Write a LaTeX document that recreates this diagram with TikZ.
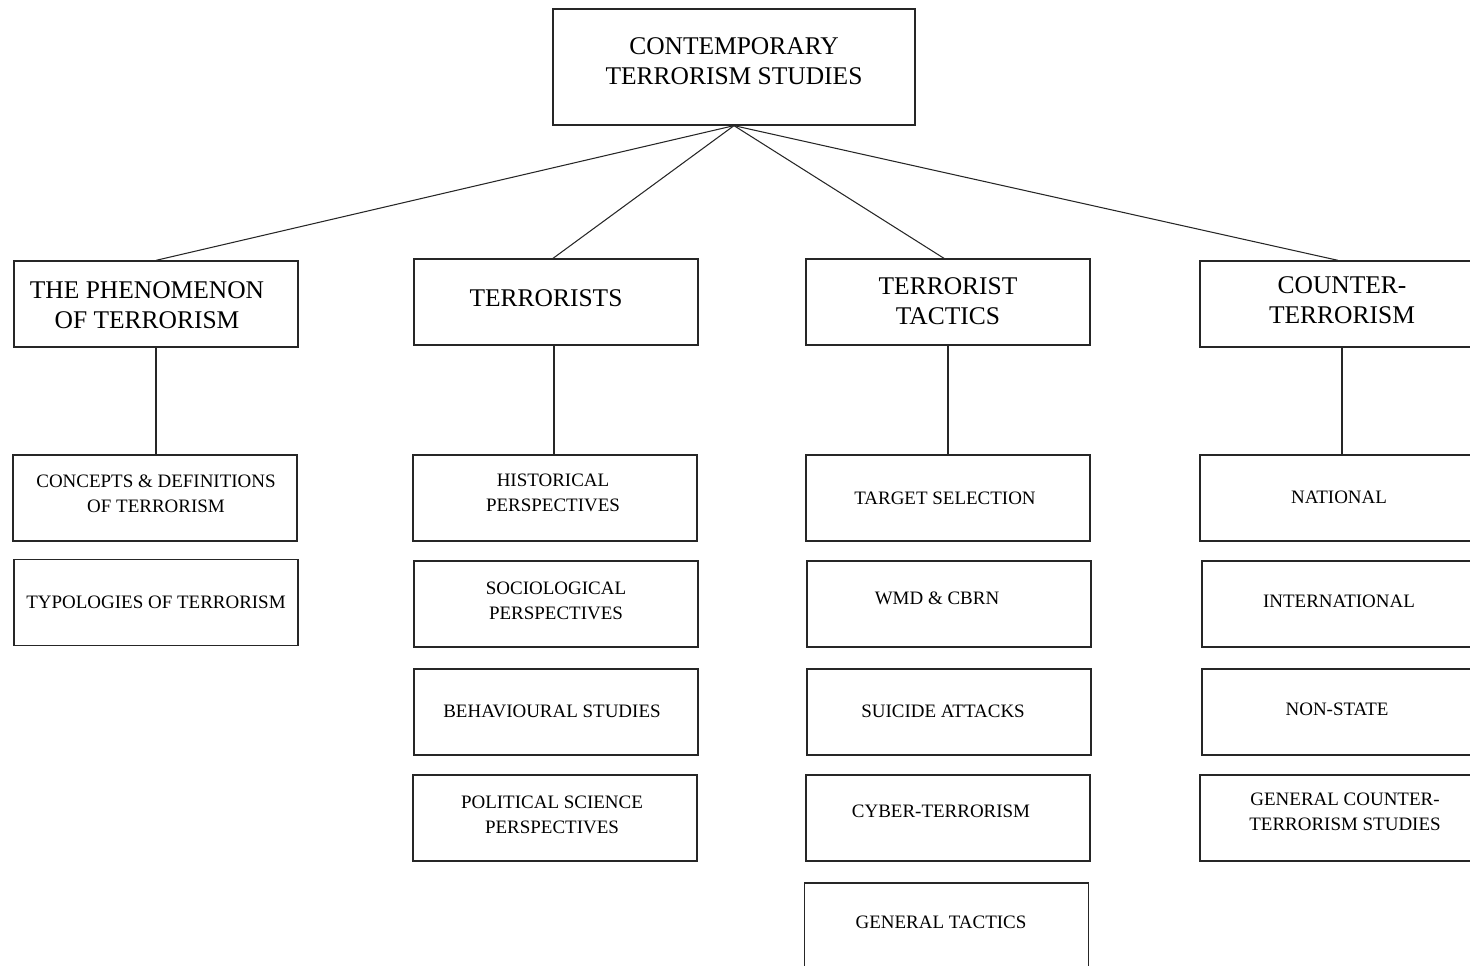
\documentclass[tikz,border=0pt]{standalone}
\usepackage{fontspec}
\setmainfont{Liberation Serif}
\begin{document}
\begin{tikzpicture}[x=0.02cm,y=-0.02cm,
  box/.style={draw=black!85, line width=0.75pt, rectangle, inner sep=0pt,
              minimum width=5.68cm, minimum height=1.72cm},
  topbox/.style={box, minimum width=7.24cm, minimum height=2.32cm},
  headtext/.style={align=center, inner sep=0pt, font=\fontsize{14.5}{17}\selectfont},
  subtext/.style={align=center, inner sep=0pt, font=\fontsize{10.8}{14.5}\selectfont},
  link/.style={draw=black!85, line width=0.6pt}]
\useasboundingbox (0,0) rectangle (1470,966);
\clip (0,0) rectangle (1470,966);

% top
\node[topbox] (b0) at (734,67) {};
\node[headtext] (t0) at (734,61) {CONTEMPORARY\\TERRORISM STUDIES};

% level 2
\node[box] (b1) at (156,304) {};
\node[headtext] (t1) at (147,305) {THE PHENOMENON\\OF TERRORISM};
\node[box] (b2) at (556,302) {};
\node[headtext] (t2) at (546,298) {TERRORISTS};
\node[box] (b3) at (948,302) {};
\node[headtext] (t3) at (948,301) {TERRORIST\\TACTICS};
\node[box] (b4) at (1342,304) {};
\node[headtext] (t4) at (1342,300) {COUNTER-\\TERRORISM};

% column 1
\node[box] (c1) at (155,498) {};
\node[subtext] (tc1) at (156,494) {CONCEPTS \& DEFINITIONS\\OF TERRORISM};
\node[box] (c2) at (156,602.5) {};
\node[subtext] (tc2) at (156,602) {TYPOLOGIES OF TERRORISM};

% column 2
\node[box] (d1) at (555,498) {};
\node[subtext] (td1) at (553,493) {HISTORICAL\\PERSPECTIVES};
\node[box] (d2) at (556,604) {};
\node[subtext] (td2) at (556,601) {SOCIOLOGICAL\\PERSPECTIVES};
\node[box] (d3) at (556,712) {};
\node[subtext] (td3) at (552,711) {BEHAVIOURAL STUDIES};
\node[box] (d4) at (555,818) {};
\node[subtext] (td4) at (552,815) {POLITICAL SCIENCE\\PERSPECTIVES};

% column 3
\node[box] (e1) at (948,498) {};
\node[subtext] (te1) at (945,498) {TARGET SELECTION};
\node[box] (e2) at (949,604) {};
\node[subtext] (te2) at (937,598) {WMD \& CBRN};
\node[box] (e3) at (949,712) {};
\node[subtext] (te3) at (943,711) {SUICIDE ATTACKS};
\node[box] (e4) at (948,818) {};
\node[subtext] (te4) at (941,811) {CYBER-TERRORISM};
\node[box] (e5) at (946.5,926) {};
\node[subtext] (te5) at (941,922) {GENERAL TACTICS};

% column 4
\node[box] (f1) at (1342,498) {};
\node[subtext] (tf1) at (1339,497) {NATIONAL};
\node[box] (f2) at (1344,604) {};
\node[subtext] (tf2) at (1339,601) {INTERNATIONAL};
\node[box] (f3) at (1344,712) {};
\node[subtext] (tf3) at (1337,709) {NON-STATE};
\node[box] (f4) at (1342,818) {};
\node[subtext] (tf4) at (1345,812) {GENERAL COUNTER-\\TERRORISM STUDIES};

% connectors
\draw[link] (b0.south) -- (b1.north);
\draw[link] (b0.south) -- ([xshift=-0.06cm]b2.north);
\draw[link] (b0.south) -- ([xshift=-0.08cm]b3.north);
\draw[link] (b0.south) -- ([xshift=-0.08cm]b4.north);
\draw[link] (b1.south) -- (b1.south |- c1.north);
\draw[link] ([xshift=-0.04cm]b2.south) -- ([xshift=-0.04cm]b2.south |- d1.north);
\draw[link] (b3.south) -- (b3.south |- e1.north);
\draw[link] (b4.south) -- (b4.south |- f1.north);
\end{tikzpicture}
\end{document}
